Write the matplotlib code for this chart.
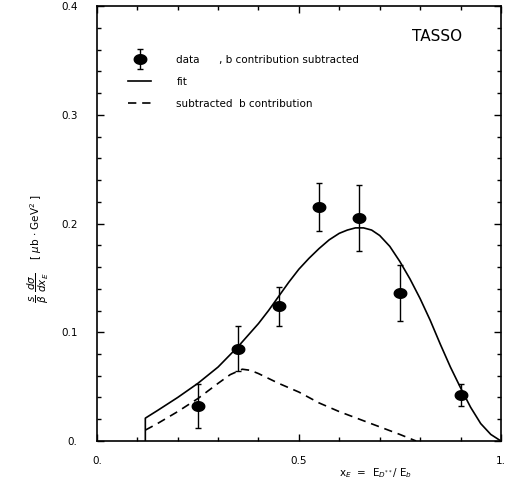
import numpy as np
import matplotlib
matplotlib.use("Agg")
import matplotlib.pyplot as plt
from matplotlib.path import Path
from matplotlib.ticker import MultipleLocator, FixedFormatter, FixedLocator
from matplotlib.lines import Line2D
from matplotlib.legend_handler import HandlerErrorbar

# measured D** cross section, b contribution subtracted
x_data = [0.25, 0.35, 0.45, 0.55, 0.65, 0.75, 0.90]
y_data = [0.032, 0.085, 0.124, 0.215, 0.205, 0.136, 0.042]
y_err = [0.020, 0.021, 0.018, 0.022, 0.030, 0.026, 0.010]

# fit curve (starts with a vertical step at the threshold)
x_fit = [0.12, 0.12, 0.15, 0.20, 0.25, 0.30, 0.35, 0.40, 0.425, 0.45, 0.475,
         0.50, 0.525, 0.55, 0.575, 0.60, 0.62, 0.64, 0.66, 0.68, 0.70, 0.725,
         0.75, 0.775, 0.80, 0.825, 0.85, 0.875, 0.90, 0.925, 0.95, 0.975, 1.00]
y_fit = [0.0, 0.021, 0.028, 0.040, 0.053, 0.068, 0.087, 0.108, 0.120, 0.133, 0.146,
         0.158, 0.168, 0.177, 0.185, 0.191, 0.194, 0.196, 0.196, 0.194, 0.189, 0.179,
         0.165, 0.149, 0.131, 0.111, 0.089, 0.068, 0.049, 0.031, 0.016, 0.006, 0.0]

# subtracted b contribution
x_b = [0.12, 0.15, 0.20, 0.25, 0.30, 0.33, 0.36, 0.38, 0.40, 0.45, 0.50,
       0.55, 0.60, 0.65, 0.70, 0.75, 0.79]
y_b = [0.010, 0.016, 0.027, 0.039, 0.053, 0.061, 0.066, 0.065, 0.062, 0.053, 0.045,
       0.035, 0.027, 0.020, 0.013, 0.006, 0.0]

x_ticks = [0.0, 0.5, 1.0]
x_ticklabels = ["0.", "0.5", "1."]
y_ticks = [0.0, 0.1, 0.2, 0.3, 0.4]
y_ticklabels = ["0.", "0.1", "0.2", "0.3", "0.4"]

plt.rcParams["font.family"] = "DejaVu Sans"

# flattened ellipse for the data points
t = np.linspace(0, 2 * np.pi, 40)
ellipse = Path(np.column_stack([1.3 * np.cos(t), np.sin(t)]), closed=True)

fig = plt.figure(figsize=(5.07, 4.87), dpi=100)
ax = fig.add_axes([0.191, 0.0945, 0.797, 0.893])

ax.plot(x_fit, y_fit, color="black", lw=1.2)
ax.plot(x_b, y_b, color="black", lw=1.2, dashes=(5, 3.5))
eb = ax.errorbar(x_data, y_data, yerr=y_err, ls="none", marker=ellipse, ms=9,
                 color="black", ecolor="black", elinewidth=1.0, capsize=2.2,
                 capthick=1.0)

ax.set_xlim(0, 1)
ax.set_ylim(0, 0.4)
ax.xaxis.set_major_locator(FixedLocator(x_ticks))
ax.xaxis.set_major_formatter(FixedFormatter(x_ticklabels))
ax.yaxis.set_major_locator(FixedLocator(y_ticks))
ax.yaxis.set_major_formatter(FixedFormatter(y_ticklabels))
ax.xaxis.set_minor_locator(MultipleLocator(0.1))
ax.yaxis.set_minor_locator(MultipleLocator(0.02))
ax.tick_params(which="both", direction="in", top=True, right=True,
               width=1.0, labelsize=7.5)
ax.tick_params(which="major", length=5)
ax.tick_params(which="minor", length=3)
ax.tick_params(axis="y", pad=14)
ax.tick_params(axis="x", pad=11)
for sp in ax.spines.values():
    sp.set_linewidth(1.2)

ax.text(0.905, 0.93, "TASSO", transform=ax.transAxes, ha="right",
        va="center", fontsize=11)

# legend
leg = ax.legend([eb,
                 Line2D([], [], color="black", lw=1.2),
                 Line2D([], [], color="black", lw=1.2, dashes=(5, 3.5))],
                ["data      , b contribution subtracted", "fit",
                 "subtracted  b contribution"],
                handler_map={type(eb): HandlerErrorbar(yerr_size=1.0)},
                loc="upper left", bbox_to_anchor=(0.055, 0.91),
                frameon=False, fontsize=7.5, handlelength=2.2,
                handletextpad=2.4, labelspacing=1.15)

fig.text(0.74, 0.022, r"x$_E$  =  E$_{D^{**}}$/ E$_b$", ha="center",
         fontsize=7.5)
fig.text(0.075, 0.49,
         r"$\dfrac{s}{\beta}\ \dfrac{d\sigma}{dx_E}$    [ $\mu$b $\cdot$ GeV$^2$ ]",
         rotation=90, ha="center", va="center", fontsize=7.5)

fig.savefig("out.png", dpi=100)
